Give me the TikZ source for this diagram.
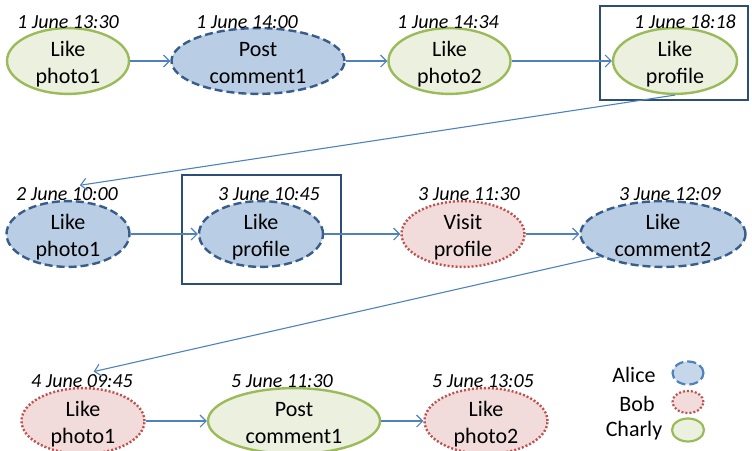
\documentclass[tikz,border=0pt]{standalone}
\usepackage{fontspec}
\setmainfont{Carlito}
\usetikzlibrary{%
    arrows.meta,
    positioning,
    shapes.geometric
}
\definecolor{aliceline}{HTML}{385D8A}
\definecolor{alicefill}{HTML}{B9CDE5}
\definecolor{bobline}{HTML}{C0504D}
\definecolor{bobfill}{HTML}{F2DCDB}
\definecolor{charlyline}{HTML}{9BBB59}
\definecolor{charlyfill}{HTML}{EBF1DE}
\definecolor{flowblue}{HTML}{4F81BD}
\definecolor{boxblue}{HTML}{2C4D75}
\tikzset{
    event/.style  = {ellipse, line width=2.4pt, inner sep=0pt,
                     minimum width=122pt, minimum height=56pt, align=center,
                     text height=46pt, text depth=0.5pt,
                     font=\fontsize{22}{27}\selectfont},
    alice/.style  = {event, draw=aliceline, fill=alicefill, dash pattern=on 8pt off 4pt},
    bob/.style    = {event, draw=bobline, fill=bobfill, dash pattern=on 2pt off 2pt},
    charly/.style = {event, draw=charlyline, fill=charlyfill},
    key/.style    = {text height=0pt, text depth=0pt, line width=2.2pt},
    stamp/.style  = {inner sep=0pt, font=\fontsize{20}{22}\selectfont\itshape},
    who/.style    = {inner sep=0pt, font=\fontsize{22}{26}\selectfont},
    flow/.style   = {draw=flowblue, line width=1.1pt, -{Straight Barb[length=6pt,width=12pt]}},
    hlbox/.style  = {draw=boxblue, line width=1.6pt, inner sep=0pt}
}

\begin{document}
\begin{tikzpicture}[x=1pt,y=-1pt]
    \useasboundingbox (0,0) rectangle (752,450);

    % highlight boxes
    \node[hlbox, minimum width=148pt, minimum height=94pt] (box1) at (674,53) {};
    \node[hlbox, minimum width=159pt, minimum height=109pt] (box2) at (261.5,229.5) {};

    % first row
    \node[charly] (act1) at (68,61) {Like\\photo1};
    \node[alice, minimum width=173pt, minimum height=58pt] (act2) at (258,61) {Post\\comment1};
    \node[charly] (act3) at (449.5,61) {Like\\photo2};
    \node[charly, minimum width=124pt] (act4) at (675,61) {Like\\profile};

    \node[stamp] (t1) at (68,22) {1 June 13:30};
    \node[stamp] (t2) at (247,22) {1 June 14:00};
    \node[stamp] (t3) at (448,22) {1 June 14:34};
    \node[stamp] (t4) at (685,22) {1 June 18:18};

    % second row
    \node[alice, minimum width=123pt, minimum height=58pt] (act5) at (68,234) {Like\\photo1};
    \node[alice, minimum width=124pt] (act6) at (261,234) {Like\\profile};
    \node[bob, minimum width=123pt] (act7) at (463,234) {Visit\\profile};
    \node[alice, minimum width=165pt, minimum height=58pt] (act8) at (663,234) {Like\\comment2};

    \node[stamp] (t5) at (67,194) {2 June 10:00};
    \node[stamp] (t6) at (269,194) {3 June 10:45};
    \node[stamp] (t7) at (469,194) {3 June 11:30};
    \node[stamp] (t8) at (670,194) {3 June 12:09};

    % third row
    \node[bob, minimum width=123pt, minimum height=57pt] (act9) at (83,421) {Like\\photo1};
    \node[charly, minimum width=172pt, minimum height=57pt] (act10) at (294,421) {Post\\comment1};
    \node[bob, minimum width=123pt, minimum height=57pt] (act11) at (486,421) {Like\\photo2};

    \node[stamp] (t9) at (82,381) {4 June 09:45};
    \node[stamp] (t10) at (282,381) {5 June 11:30};
    \node[stamp] (t11) at (483,381) {5 June 13:05};

    % sequence
    \draw[flow] (act1.east) -- (act2.west);
    \draw[flow] (act2.east) -- (act3.west);
    \draw[flow] (act3.east) -- (act4.west);
    \draw[flow, shorten >=13pt] (act4.south) -- (t5.north);
    \draw[flow] (act5.east) -- (act6.west);
    \draw[flow] (act6.east) -- (act7.west);
    \draw[flow] (act7.east) -- (act8.west);
    \draw[flow, shorten >=12pt] (act8.200) -- (t9.north);
    \draw[flow] (act9.east) -- (act10.west);
    \draw[flow] (act10.east) -- (act11.west);

    % legend
    \node[who] (whoA) at (634,375) {Alice};
    \node[who] (whoB) at (637,404) {Bob};
    \node[who] (whoC) at (634,431) {Charly};
    \node[alice, key, draw=flowblue, fill=alicefill!80!white, dash pattern=on 9pt off 4pt,
          minimum width=31pt, minimum height=23pt] (keyA) at (688,373) {};
    \node[bob, key, minimum width=31pt, minimum height=22pt] (keyB) at (688,402) {};
    \node[charly, key, minimum width=32pt, minimum height=23pt] (keyC) at (688,430) {};
\end{tikzpicture}
\end{document}
